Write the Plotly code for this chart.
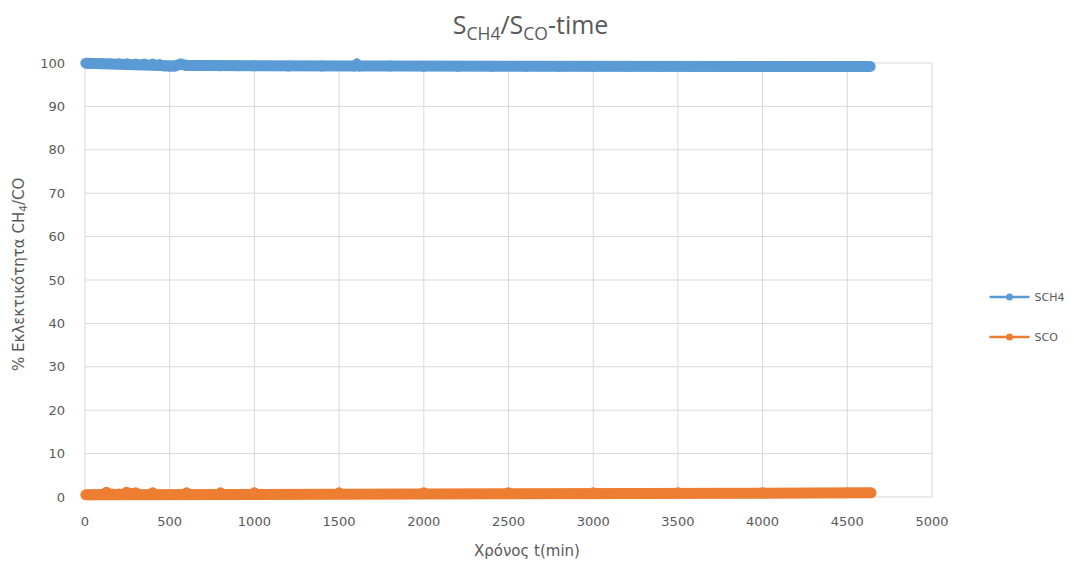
import plotly.graph_objects as go

# Selectivity of CH4 over time (min)
t_ch4 = [5, 30, 60, 100, 150, 200, 250, 300, 350, 400, 440, 470, 500, 530, 565,
         600, 700, 800, 900, 1000, 1200, 1400, 1590, 1605, 1620, 1800, 2000,
         2200, 2400, 2600, 2800, 3000, 3200, 3400, 3600, 3800, 4000, 4200,
         4400, 4635]
s_ch4 = [99.95, 99.9, 99.9, 99.9, 99.85, 99.85, 99.85, 99.8, 99.8, 99.75, 99.65,
         99.3, 99.25, 99.3, 99.75, 99.45, 99.4, 99.35, 99.35, 99.35, 99.3, 99.3,
         99.3, 99.7, 99.3, 99.3, 99.25, 99.25, 99.25, 99.25, 99.2, 99.2, 99.2,
         99.2, 99.2, 99.2, 99.2, 99.2, 99.2, 99.2]

# Selectivity of CO over time (min)
t_co = [5, 30, 60, 90, 127, 160, 200, 245, 270, 300, 400, 600, 800, 1000, 1500,
        2000, 2500, 3000, 3500, 4000, 4500, 4640]
s_co = [0.5, 0.5, 0.5, 0.55, 1.1, 0.7, 0.7, 1.1, 0.85, 0.95, 0.95, 0.95, 0.95,
        0.95, 0.95, 0.95, 0.95, 0.95, 0.95, 0.95, 0.95, 0.95]

x_ticks = [0, 500, 1000, 1500, 2000, 2500, 3000, 3500, 4000, 4500, 5000]
y_ticks = [0, 10, 20, 30, 40, 50, 60, 70, 80, 90, 100]

BLUE = "#5b9bd5"
ORANGE = "#ed7d31"
TEXT = "#595959"
GRID = "#d9d9d9"
FONT = "DejaVu Sans"

# the axes run a little past the grid so the thick bands are not clipped
X_PAD = 47.25
Y_PAD = 1.846

fig = go.Figure()

for name, xs, ys, col in [("SCH4", t_ch4, s_ch4, BLUE), ("SCO", t_co, s_co, ORANGE)]:
    # dense measurement band
    fig.add_trace(go.Scatter(
        x=xs, y=ys, mode="lines+markers", name=name, showlegend=False,
        line=dict(color=col, width=11),
        marker=dict(color=col, size=11, line=dict(width=0)),
        cliponaxis=False,
    ))
    # legend sample
    fig.add_trace(go.Scatter(
        x=[None], y=[None], mode="lines+markers", name=name,
        legendgroup=name,
        line=dict(color=col, width=2.5),
        marker=dict(color=col, size=7),
    ))

# grid drawn only over the 0-5000 x 0-100 frame
shapes = []
for yv in y_ticks:
    shapes.append(dict(type="line", xref="x", yref="y", x0=x_ticks[0],
                       x1=x_ticks[-1], y0=yv, y1=yv, layer="below",
                       line=dict(color=GRID, width=1)))
for xv in x_ticks:
    shapes.append(dict(type="line", xref="x", yref="y", x0=xv, x1=xv,
                       y0=y_ticks[0], y1=y_ticks[-1], layer="below",
                       line=dict(color=GRID, width=1)))

fig.update_layout(
    width=1074, height=567,
    margin=dict(l=77, r=134, t=55, b=62, autoexpand=False),
    paper_bgcolor="white", plot_bgcolor="white",
    font=dict(family=FONT, size=13, color=TEXT),
    title=dict(
        text="S<sub>CH4</sub>/S<sub>CO</sub>-time",
        x=0.494, xref="container", xanchor="center",
        y=0.955, yref="container", yanchor="middle",
        font=dict(family="Open Sans", size=25, color=TEXT),
    ),
    legend=dict(
        x=1.0516, xanchor="left", y=0.418, yanchor="middle",
        font=dict(family=FONT, size=11, color=TEXT),
        tracegroupgap=21, itemwidth=40,
        bgcolor="rgba(0,0,0,0)",
    ),
    xaxis=dict(
        range=[x_ticks[0] - X_PAD, x_ticks[-1] + X_PAD], tickvals=x_ticks,
        showgrid=False, zeroline=False, showline=False, ticks="",
        tickfont=dict(family=FONT, size=13, color=TEXT), ticklabelstandoff=7,
    ),
    yaxis=dict(
        range=[y_ticks[0] - Y_PAD, y_ticks[-1] + Y_PAD], tickvals=y_ticks,
        showgrid=False, zeroline=False, showline=False, ticks="",
        tickfont=dict(family=FONT, size=13, color=TEXT), ticklabelstandoff=11,
    ),
    shapes=shapes,
    annotations=[
        dict(text="Χρόνος t(min)", x=0.5214, xref="paper", y=-0.1022,
             yref="paper", xanchor="center", yanchor="middle", showarrow=False,
             font=dict(family=FONT, size=15, color=TEXT)),
        dict(text="% Εκλεκτικότητα CH<sub>4</sub>/CO", x=-0.0672, xref="paper",
             y=0.511, yref="paper", xanchor="center", yanchor="middle",
             textangle=-90, showarrow=False,
             font=dict(family=FONT, size=15, color=TEXT)),
    ],
)

fig.write_html("out.html")
